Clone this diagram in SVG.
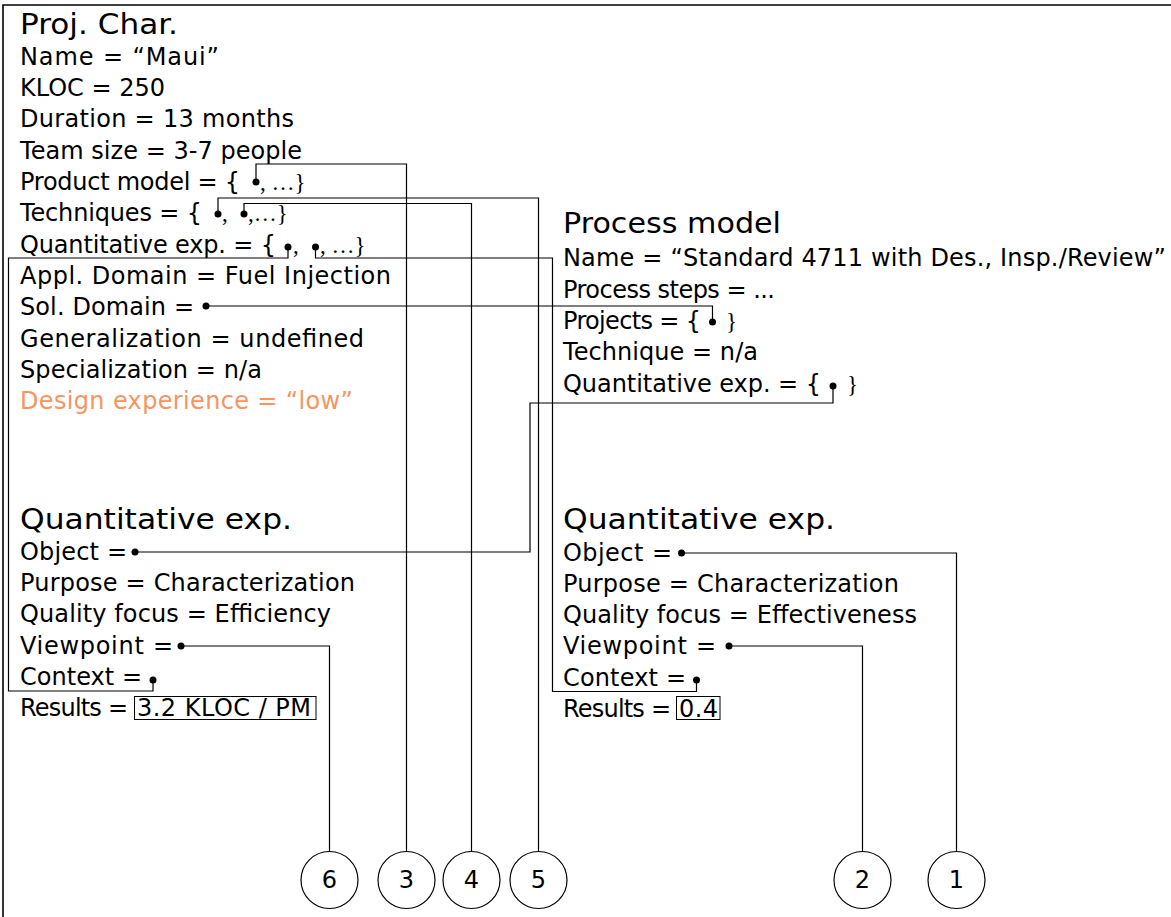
<svg xmlns="http://www.w3.org/2000/svg" width="1171" height="917" viewBox="0 0 1171 917">
<style>
text{font-family:"DejaVu Sans","Liberation Sans",sans-serif;font-size:24px;fill:#000}
.t{font-size:29px}
.s{font-family:"Liberation Serif",serif;font-size:23px}
.o{fill:#F79460}
.c{fill:none;stroke:#000;stroke-width:1.2}
.d{fill:#000}
.b{fill:none;stroke:#000;stroke-width:1}
.circ{fill:#fff;stroke:#000;stroke-width:1.2}
.n{font-size:24px;text-anchor:middle}
</style>
<rect width="1171" height="917" fill="#fff"/>
<path d="M3,917 V5 H1171" fill="none" stroke="#000" stroke-width="1.6"/>
<g id="connectors">
<path class="c" d="M256,182 V164 H406.5 V851"/>
<path class="c" d="M218,214 V198 H538.5 V851"/>
<path class="c" d="M244,214 V203.5 H471.5 V851"/>
<path class="c" d="M288,247 V258 H8.5 V691 H153 V680"/>
<path class="c" d="M315.5,247 V258 H552.5 V691.5 H696.5 V680"/>
<path class="c" d="M206,306 H712.5 V322"/>
<path class="c" d="M833,386 V403 H530 V552 H135"/>
<path class="c" d="M181,646 H329.5 V851"/>
<path class="c" d="M681.5,553 H956.5 V851"/>
<path class="c" d="M729,646 H862.5 V851"/>
</g>
<g id="proj-char">
<text class="t" x="20" y="34" textLength="158" lengthAdjust="spacingAndGlyphs">Proj. Char.</text>
<text x="20" y="65" textLength="199">Name = “Maui”</text>
<text x="20" y="96" textLength="145">KLOC = 250</text>
<text x="20" y="127" textLength="274">Duration = 13 months</text>
<text x="20" y="159" textLength="282">Team size = 3-7 people</text>
<text x="20" y="190" textLength="220">Product model = {</text>
<circle class="d" cx="256" cy="182" r="3.5"/>
<text class="s" x="260" y="190">, …}</text>
<text x="20" y="221" textLength="182">Techniques =  {</text>
<circle class="d" cx="218" cy="214" r="3.5"/>
<text class="s" x="222" y="221">,</text>
<circle class="d" cx="244" cy="214" r="3.5"/>
<text class="s" x="248" y="221">,…}</text>
<text x="20" y="253" textLength="256">Quantitative exp. = {</text>
<circle class="d" cx="288" cy="247" r="3.5"/>
<text class="s" x="293" y="253">,</text>
<circle class="d" cx="315.5" cy="247" r="3.5"/>
<text class="s" x="320" y="253">, …}</text>
<text x="20" y="284" textLength="371">Appl. Domain = Fuel Injection</text>
<text x="20" y="315" textLength="174">Sol. Domain =</text>
<circle class="d" cx="206" cy="306" r="3.5"/>
<text x="20" y="347" textLength="344">Generalization = undefined</text>
<text x="20" y="378" textLength="242">Specialization = n/a</text>
<text class="o" x="20" y="409" textLength="333">Design experience = “low”</text>
</g>
<g id="process-model">
<text class="t" x="563" y="233" textLength="218" lengthAdjust="spacingAndGlyphs">Process model</text>
<text x="563" y="266" textLength="603">Name = “Standard 4711 with Des., Insp./Review”</text>
<text x="563" y="298" textLength="212">Process steps = ...</text>
<text x="563" y="329" textLength="138">Projects = {</text>
<circle class="d" cx="712.5" cy="322" r="3.5"/>
<text class="s" x="726" y="329">}</text>
<text x="563" y="360" textLength="195">Technique = n/a</text>
<text x="563" y="392" textLength="258">Quantitative exp. = {</text>
<circle class="d" cx="833" cy="386" r="3.5"/>
<text class="s" x="847" y="392">}</text>
</g>
<g id="quant-exp-left">
<text class="t" x="20" y="529" textLength="272" lengthAdjust="spacingAndGlyphs">Quantitative exp.</text>
<text x="20" y="560" textLength="107">Object =</text>
<circle class="d" cx="135" cy="552" r="3.5"/>
<text x="20" y="591" textLength="335">Purpose = Characterization</text>
<text x="20" y="622" textLength="311">Quality focus = Efficiency</text>
<text x="20" y="654" textLength="153">Viewpoint =</text>
<circle class="d" cx="181" cy="646" r="3.5"/>
<text x="20" y="685" textLength="122">Context =</text>
<circle class="d" cx="153" cy="680" r="3.5"/>
<text x="20" y="716" textLength="108">Results =</text>
<rect class="b" x="134.5" y="696.5" width="181.5" height="23"/>
<text x="137" y="716" textLength="174">3.2 KLOC / PM</text>
</g>
<g id="quant-exp-right">
<text class="t" x="563" y="529" textLength="272" lengthAdjust="spacingAndGlyphs">Quantitative exp.</text>
<text x="563" y="561" textLength="109">Object =</text>
<circle class="d" cx="681.5" cy="553" r="3.5"/>
<text x="563" y="592" textLength="336">Purpose = Characterization</text>
<text x="563" y="623" textLength="354">Quality focus = Effectiveness</text>
<text x="563" y="654" textLength="153">Viewpoint =</text>
<circle class="d" cx="729" cy="646" r="3.5"/>
<text x="563" y="686" textLength="123">Context =</text>
<circle class="d" cx="696.5" cy="680" r="3.5"/>
<text x="563" y="717" textLength="108">Results =</text>
<rect class="b" x="676.5" y="696.5" width="43.5" height="23"/>
<text x="679" y="717" textLength="39">0.4</text>
</g>
<g id="circle-6"><circle class="circ" cx="329.5" cy="880" r="28.5"/><text class="n" x="329.5" y="888">6</text></g>
<g id="circle-3"><circle class="circ" cx="406.5" cy="880" r="28.5"/><text class="n" x="406.5" y="888">3</text></g>
<g id="circle-4"><circle class="circ" cx="471.5" cy="880" r="28.5"/><text class="n" x="471.5" y="888">4</text></g>
<g id="circle-5"><circle class="circ" cx="538.5" cy="880" r="28.5"/><text class="n" x="538.5" y="888">5</text></g>
<g id="circle-2"><circle class="circ" cx="862.5" cy="880" r="28.5"/><text class="n" x="862.5" y="888">2</text></g>
<g id="circle-1"><circle class="circ" cx="956.5" cy="880" r="28.5"/><text class="n" x="956.5" y="888">1</text></g>
</svg>
